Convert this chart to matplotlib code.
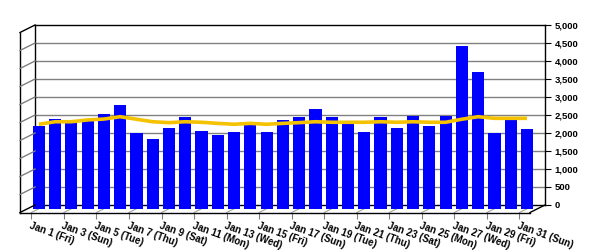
import matplotlib
matplotlib.use("Agg")
import matplotlib.pyplot as plt
from matplotlib.lines import Line2D
from matplotlib.ticker import FuncFormatter
import numpy as np

plt.rcParams["font.family"] = ["Liberation Sans", "DejaVu Sans"]
plt.rcParams["font.weight"] = "bold"

days = [f"Jan {d} ({w})" for d, w in zip(
    range(1, 32),
    ["Fri", "Sat", "Sun", "Mon", "Tue", "Wed", "Thu"] * 4 + ["Fri", "Sat", "Sun"])]
visits = [2290, 2495, 2385, 2430, 2625, 2875, 2105, 1920, 2245, 2540, 2160,
          2040, 2135, 2320, 2135, 2460, 2550, 2765, 2540, 2355, 2135, 2540,
          2245, 2580, 2290, 2580, 4515, 3800, 2105, 2460, 2210]
trend = [2340, 2410, 2410, 2460, 2485, 2550, 2480, 2410, 2385, 2410, 2395,
         2365, 2340, 2365, 2340, 2365, 2385, 2410, 2395, 2395, 2395, 2410,
         2395, 2410, 2395, 2395, 2480, 2550, 2505, 2505, 2505]
y_ticks = list(range(0, 5001, 500))

W, H = 600, 250
DX, DY = 15, 7.5          # depth of the 3D box in pixels
X0, X1 = 35, 545          # back wall left/right
YT, YB = 25, 205          # back wall top (5000) / bottom (0)

fig = plt.figure(figsize=(6, 2.5), dpi=100)
fig.patch.set_facecolor("white")


def fx(x):
    return x / W


def fy(y):
    return 1 - y / H


def rect(x0, x1, ybottom):
    return [fx(x0), fy(ybottom), (x1 - x0) / W, (YB - YT) / H]


n = len(visits)
xs = np.arange(n)

# back wall
axb = fig.add_axes(rect(X0, X1, YB))
axb.set_xlim(-0.5, n - 0.5)
axb.set_ylim(0, 5000)
axb.set_yticks(y_ticks)
axb.yaxis.tick_right()
axb.yaxis.set_major_formatter(FuncFormatter(lambda v, p: f"{int(v):,}"))
axb.tick_params(axis="y", length=4, width=0.8, pad=3, labelsize=6.8)
axb.set_xticks([])
for yv in y_ticks[1:-1]:
    axb.axhline(yv, color="#808080", lw=1)
for s in axb.spines.values():
    s.set_color("black")
    s.set_linewidth(1)

# bars, drawn a little in front of the back wall
bx0, bx1 = 30.7, 535.1
ax = fig.add_axes(rect(bx0, bx1, YB + 3.5))
ax.patch.set_alpha(0)
ax.set_xlim(-0.5, n - 0.5)
ax.set_ylim(0, 5000)
ax.axis("off")
ax.bar(xs, visits, width=0.75, color="#0000FF", zorder=2)
ax.plot(xs, trend, color="#F5C200", lw=2.6, solid_capstyle="butt", zorder=3)

# front plane (x ticks and labels)
axf = fig.add_axes(rect(bx0 - 7.5, bx1 - 7.5, YB + DY))
axf.patch.set_alpha(0)
axf.set_xlim(-0.5, n - 0.5)
axf.set_ylim(0, 5000)
axf.set_yticks([])
axf.set_xticks(xs[::2])
axf.set_xticklabels(days[::2], rotation=-20, ha="left", va="top",
                    rotation_mode="anchor", fontsize=7)
axf.tick_params(axis="x", length=4, color="#808080", pad=1.5)
for s in axf.spines.values():
    s.set_visible(False)


def seg(x0, y0, x1, y1, **kw):
    fig.add_artist(Line2D([fx(x0), fx(x1)], [fy(y0), fy(y1)], **kw))


# floor grid lines under the bars
slot = (bx1 - bx0) / n
for i in xs[::2]:
    xp = bx0 + slot * (i + 0.5)
    seg(xp - 7.5, YB + DY, xp + 7.5, YB, color="#A0A0A0", lw=0.8, zorder=-1)

# 3D box edges
black = dict(color="black", lw=1)
seg(X0 - DX, YT + DY, X0 - DX, YB + DY, **black)
seg(X0 - DX, YT + DY, X0, YT, **black)
seg(X0 - DX, YB + DY, X0, YB, **black)
seg(X1 - DX, YB + DY, X1, YB, **black)
seg(X0 - DX, YB + DY, X1 - DX, YB + DY, **black)
for yv in y_ticks[1:-1]:
    yp = YB - (YB - YT) * yv / 5000
    seg(X0 - DX, yp + DY, X0, yp, color="#808080", lw=1)

fig.savefig("out.png", dpi=100)
